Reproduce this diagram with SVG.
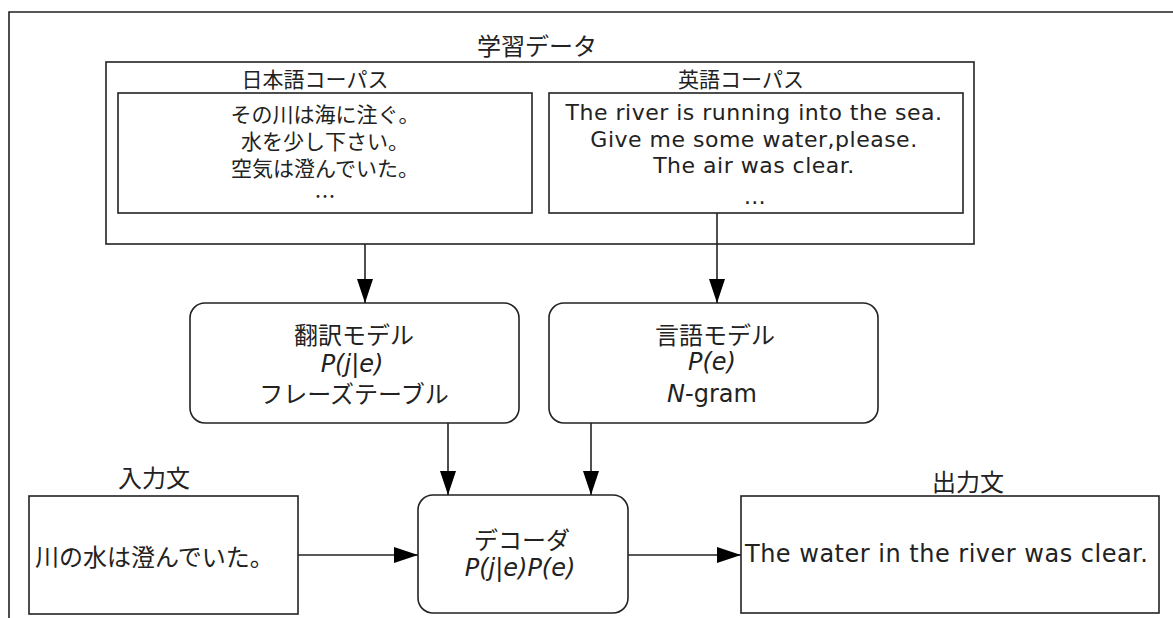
<svg xmlns="http://www.w3.org/2000/svg" width="1173" height="618" viewBox="0 0 1173 618">
<style>
.box{fill:#fff;stroke:#222;stroke-width:1.6}
.ln{fill:none;stroke:#222;stroke-width:1.6}
.jp{font-family:"Noto Sans CJK JP","DejaVu Sans",sans-serif;fill:#222}
.en{font-family:"DejaVu Sans","Noto Sans CJK JP",sans-serif;fill:#222}
.it{font-style:italic}
</style>
<defs>
<marker id="ah" markerWidth="24" markerHeight="16" refX="24" refY="8" orient="auto" markerUnits="userSpaceOnUse">
<path d="M0,0 L24,8 L0,16 z" fill="#000"/>
</marker>
</defs>
<rect width="1173" height="618" fill="#fff"/>
<path class="ln" d="M9,618 V12 H1173"/>
<g id="training-data">
<rect class="box" x="106" y="62" width="868" height="182"/>
<text class="jp" x="537" y="55" font-size="24" text-anchor="middle">学習データ</text>
</g>
<g id="japanese-corpus">
<rect class="box" x="118" y="93" width="414" height="120"/>
<text class="jp" x="315" y="87" font-size="21" text-anchor="middle">日本語コーパス</text>
<g class="jp" font-size="21" text-anchor="middle">
<text x="325" y="122">その川は海に注ぐ。</text>
<text x="325" y="149">水を少し下さい。</text>
<text x="325" y="176">空気は澄んでいた。</text>
<text x="325" y="204">…</text>
</g>
</g>
<g id="english-corpus">
<rect class="box" x="549" y="93" width="414" height="120"/>
<text class="jp" x="741" y="87" font-size="21" text-anchor="middle">英語コーパス</text>
<g class="en" font-size="22" text-anchor="middle" letter-spacing="0.5">
<text x="754" y="120">The river is running into the sea.</text>
<text x="754" y="147">Give me some water,please.</text>
<text x="754" y="173">The air was clear.</text>
<text x="755" y="204">…</text>
</g>
</g>
<g id="translation-model">
<rect class="box" x="190" y="303" width="329" height="120" rx="15"/>
<text class="jp" x="354" y="344" font-size="24" text-anchor="middle">翻訳モデル</text>
<text class="en it" x="352" y="372" font-size="24" text-anchor="middle">P(j|e)</text>
<text class="jp" x="354" y="403" font-size="24" text-anchor="middle">フレーズテーブル</text>
</g>
<g id="language-model">
<rect class="box" x="549" y="303" width="329" height="120" rx="15"/>
<text class="jp" x="715" y="344" font-size="24" text-anchor="middle">言語モデル</text>
<text class="en it" x="712" y="370" font-size="24" text-anchor="middle">P(e)</text>
<text class="en" x="712" y="402" font-size="24" text-anchor="middle"><tspan class="it">N</tspan>-gram</text>
</g>
<g id="decoder">
<rect class="box" x="418" y="495" width="210" height="118" rx="15"/>
<text class="jp" x="522" y="549" font-size="24" text-anchor="middle">デコーダ</text>
<text class="en it" x="520" y="576" font-size="24" text-anchor="middle">P(j|e)P(e)</text>
</g>
<g id="input">
<text class="jp" x="154" y="487" font-size="24" text-anchor="middle">入力文</text>
<rect class="box" x="29" y="496" width="269" height="118"/>
<text class="jp" x="35" y="566" font-size="24">川の水は澄んでいた。</text>
</g>
<g id="output">
<text class="jp" x="968" y="491" font-size="24" text-anchor="middle">出力文</text>
<rect class="box" x="741" y="496" width="418" height="117"/>
<text class="en" x="745" y="562" font-size="24" letter-spacing="0.5">The water in the river was clear.</text>
</g>
<g id="connectors" class="ln" marker-end="url(#ah)">
<path d="M365,244 V303"/>
<path d="M717,213 V303"/>
<path d="M448,423 V495"/>
<path d="M591,423 V495"/>
<path d="M298,555 H418"/>
<path d="M628,555 H741"/>
</g>
</svg>
